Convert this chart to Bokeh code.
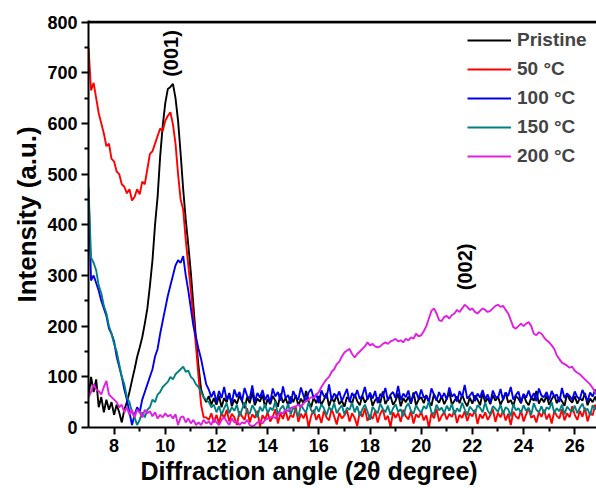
import numpy as np
from bokeh.plotting import figure
from bokeh.models import Range1d, FixedTicker, Label, Title, Span
from bokeh.embed import file_html
from bokeh.resources import INLINE

# 2-theta sampling grid (degrees), 7.0 ... 26.9
angle = np.round(np.arange(7.0, 26.95, 0.1), 1)

pristine = [
    60, 100, 70, 95, 40, 60, 30, 55, 35, 50,
    25, 45, 30, 10, 35, 50, 70, 93, 115, 139,
    158, 178, 205, 235, 280, 330, 400, 455, 535, 595,
    640, 668, 672, 678, 650, 605, 540, 470, 410, 360,
    305, 240, 175, 120, 75, 60, 50, 62, 45, 58,
    45, 62, 40, 58, 50, 68, 42, 55, 47, 63,
    52, 38, 60, 48, 70, 44, 57, 51, 65, 40,
    56, 46, 62, 53, 41, 67, 49, 58, 44, 61,
    50, 64, 43, 57, 47, 72, 52, 40, 59, 48,
    62, 45, 55, 68, 42, 58, 50, 64, 46, 53,
    41, 60, 55, 47, 66, 52, 44, 63, 49, 57,
    65, 43, 54, 59, 48, 71, 46, 56, 62, 45,
    53, 67, 42, 58, 50, 61, 47, 69, 44, 55,
    60, 48, 64, 52, 43, 66, 55, 49, 62, 46,
    57, 70, 45, 53, 61, 48, 65, 51, 42, 59,
    47, 63, 55, 44, 68, 50, 58, 46, 64, 53,
    61, 45, 56, 69, 49, 54, 42, 62, 57, 48,
    66, 51, 44, 59, 53, 72, 47, 58, 50, 63,
    45, 56, 64, 48, 60, 52, 43, 67, 55, 49,
    62, 47, 58, 53, 68, 44, 57, 50, 61, 46,
]

t50 = [
    750, 665, 680, 650, 620, 600, 580, 555, 560, 530,
    525, 505, 500, 480, 475, 462, 470, 448, 455, 470,
    460, 485, 480, 510, 540, 545, 560, 575, 590, 585,
    605, 615, 622, 598, 560, 500, 450, 430, 370, 320,
    270, 215, 160, 100, 45, 20, 20, 15, 28, 10,
    25, 8, 30, 18, 35, 12, 27, 20, 5, 32,
    22, 15, 38, 10, 26, 19, 33, 2, 24, 16,
    30, 12, 21, 36, 8, 28, 17, 34, 14, 25,
    20, 40, 11, 27, 18, 31, 0, 23, 35, 15,
    26, 9, 33, 20, 14, 37, 22, 6, 29, 18,
    24, 34, 12, 28, 19, 3, 31, 21, 38, 13,
    25, 17, 32, 10, 27, 36, 15, 23, 1, 30,
    19, 29, 11, 35, 22, 16, 33, 8, 26, 20,
    31, 14, 24, 0, 28, 18, 37, 12, 23, 30,
    16, 27, 21, 34, 9, 25, 19, 32, 13, 28,
    22, 35, 7, 26, 18, 30, 15, 24, 36, 11,
    29, 20, 33, 14, 27, 5, 31, 22, 17, 34,
    12, 26, 38, 19, 24, 10, 30, 21, 35, 16,
    27, 8, 32, 23, 18, 36, 14, 28, 20, 42,
    25, 15, 33, 21, 39, 12, 29, 24, 45, 30,
]

t100 = [
    470, 290, 300, 285, 270, 250, 235, 220, 195, 185,
    170, 140, 120, 100, 75, 55, 30, 5, 25, 40,
    30, 55, 70, 85, 100, 115, 140, 155, 185, 210,
    235, 260, 280, 300, 320, 330, 325, 338, 300, 270,
    235, 200, 178, 155, 135, 110, 85, 75, 60, 72,
    50, 72, 58, 80, 55, 66, 48, 75, 60, 70,
    52, 78, 62, 57, 83, 50, 68, 59, 74, 54,
    65, 49, 77, 61, 70, 53, 81, 58, 64, 47,
    72, 60, 55, 79, 63, 51, 69, 76, 57, 66,
    48, 73, 62, 58, 85, 54, 67, 60, 71, 52,
    64, 76, 50, 68, 59, 74, 56, 63, 80, 55,
    69, 57, 72, 48, 66, 61, 78, 53, 65, 70,
    58, 82, 54, 67, 60, 73, 49, 64, 71, 56,
    75, 59, 62, 50, 77, 65, 53, 70, 58, 68,
    55, 79, 61, 66, 51, 72, 60, 84, 57, 63,
    70, 52, 67, 59, 74, 56, 65, 49, 73, 61,
    58, 76, 54, 69, 62, 80, 55, 64, 71, 50,
    66, 59, 73, 57, 68, 52, 77, 63, 60, 70,
    54, 72, 61, 65, 50, 78, 58, 67, 62, 55,
    71, 60, 56, 74, 63, 52, 69, 61, 75, 58,
]

t150 = [
    475, 335, 325, 310, 280, 265, 240, 225, 200, 185,
    165, 150, 125, 100, 85, 60, 50, 30, 20, 5,
    15, 30, 20, 35, 40, 55, 50, 65, 70, 80,
    85, 90, 100, 95, 105, 110, 115, 120, 110, 112,
    100, 95, 85, 80, 70, 60, 55, 50, 40, 45,
    30, 42, 25, 38, 48, 28, 40, 33, 45, 22,
    36, 50, 30, 27, 44, 35, 20, 41, 32, 46,
    28, 39, 34, 52, 25, 37, 43, 30, 47, 26,
    40, 33, 21, 45, 36, 29, 50, 34, 27, 42,
    31, 46, 38, 24, 40, 33, 48, 28, 37, 44,
    26, 39, 35, 49, 30, 42, 23, 36, 45, 32,
    15, 41, 34, 28, 47, 37, 30, 43, 25, 38,
    46, 31, 36, 22, 40, 48, 33, 27, 44, 35,
    29, 42, 37, 51, 30, 26, 45, 34, 39, 28,
    43, 33, 47, 25, 38, 31, 49, 36, 24, 41,
    35, 28, 44, 39, 30, 50, 33, 26, 42, 37,
    31, 45, 27, 40, 36, 22, 46, 34, 38, 29,
    44, 33, 39, 25, 48, 35, 30, 42, 27, 40,
    36, 50, 29, 38, 32, 45, 26, 41, 35, 31,
    43, 28, 39, 47, 33, 37, 24, 44, 36, 40,
]

t200 = [
    60, 70, 85, 75, 72, 65, 80, 92, 65, 60,
    55, 50, 40, 45, 30, 40, 25, 35, 20, 35,
    30, 20, 35, 28, 32, 22, 30, 18, 25, 20,
    28, 22, 25, 18, 26, 5, 20, 22, 10, 18,
    8, 15, 5, 10, 5, 15, 8, 12, 5, 18,
    10, 5, 15, 20, 12, 5, 18, 10, 12, 5,
    10, 8, 15, 5, 2, 5, 10, 12, 8, 15,
    18, 20, 22, 18, 25, 30, 28, 35, 32, 38,
    40, 42, 45, 40, 48, 52, 55, 60, 58, 65,
    70, 80, 88, 95, 100, 110, 115, 125, 130, 140,
    148, 152, 155, 145, 138, 145, 150, 155, 160, 168,
    162, 165, 160, 158, 160, 165, 168, 165, 170, 172,
    175, 170, 172, 168, 175, 172, 178, 175, 185, 180,
    182, 190, 200, 215, 230, 235, 225, 212, 210, 218,
    220, 215, 222, 225, 232, 228, 235, 242, 238, 232,
    235, 228, 225, 230, 235, 232, 228, 230, 235, 240,
    242, 238, 240, 232, 225, 212, 198, 195, 200, 205,
    200, 205, 208, 200, 185, 182, 188, 185, 178, 172,
    168, 162, 155, 142, 135, 128, 125, 122, 118, 120,
    112, 108, 105, 100, 95, 90, 85, 78, 70, 62,
]

series_names = ["Pristine", "50 \u00b0C", "100 \u00b0C", "150 \u00b0C", "200 \u00b0C"]
series_values = [pristine, t50, t100, t150, t200]
series_colors = ["#000000", "#ff0000", "#0000ee", "#008080", "#e020e0"]

x_ticks = [8, 10, 12, 14, 16, 18, 20, 22, 24, 26]
x_minor = [9, 11, 13, 15, 17, 19, 21, 23, 25]
y_ticks = [0, 100, 200, 300, 400, 500, 600, 700, 800]
y_minor = [50, 150, 250, 350, 450, 550, 650, 750]
x_span = [7.0, 26.85]

peak_labels = ["(001)", "(002)"]
peak_x = [10.23, 21.73]
peak_y = [738, 317]

x_title = "Diffraction angle (2\u03b8 degree)"
y_title = "Intensity (a.u.)"

FONT = "Liberation Sans"

p = figure(width=596, height=488, output_backend="svg", toolbar_location=None,
           x_range=Range1d(x_span[0], x_span[1]), y_range=Range1d(y_ticks[0], 803),
           min_border_left=88, min_border_right=0, min_border_top=20,
           min_border_bottom=61)
p.outline_line_color = None
p.grid.visible = False
p.background_fill_color = "white"
p.border_fill_color = "white"

for ax, ticks, minor in [(p.xaxis[0], x_ticks, x_minor), (p.yaxis[0], y_ticks, y_minor)]:
    ax.ticker = FixedTicker(ticks=ticks, minor_ticks=minor)
    ax.axis_line_width = 2
    ax.axis_line_color = "black"
    ax.major_tick_line_width = 2
    ax.minor_tick_line_width = 2
    ax.major_tick_in = 0
    ax.major_tick_out = 7
    ax.minor_tick_in = 0
    ax.minor_tick_out = 4
    ax.major_label_text_font = FONT
    ax.major_label_text_font_style = "bold"
    ax.major_label_text_font_size = "18px"
    ax.major_label_text_color = "black"
    ax.major_label_standoff = 4

# top frame border along y = 800
p.line(x=x_span, y=[y_ticks[-1], y_ticks[-1]], line_color="black", line_width=2.5)
p.add_layout(Span(location=y_ticks[-1], dimension="width", line_color="black",
                  line_width=2.5, level="overlay"))

for name, vals, col in zip(series_names, series_values, series_colors):
    p.line(angle, vals, line_color=col, line_width=1.9, legend_label=name)

for txt, px, py in zip(peak_labels, peak_x, peak_y):
    p.add_layout(Label(x=px, y=py, text=txt, angle=np.pi / 2, text_align="center",
                       text_baseline="middle", text_font=FONT, text_font_style="bold",
                       text_font_size="20px", text_color="black"))

p.add_layout(Title(text=x_title, align="left", offset=52, standoff=0,
                   text_font=FONT, text_font_style="bold", text_font_size="25px",
                   text_color="black"), "below")
p.add_layout(Title(text=y_title, align="left", offset=125, standoff=6,
                   text_font=FONT, text_font_style="bold", text_font_size="26px",
                   text_color="black"), "left")

lg = p.legend[0]
lg.location = (379, 260)
lg.margin = 0
lg.padding = 8
lg.spacing = 7
lg.glyph_width = 44
lg.glyph_height = 20
lg.label_height = 20
lg.label_standoff = 6
lg.label_text_font = FONT
lg.label_text_font_style = "bold"
lg.label_text_font_size = "19px"
lg.border_line_color = None
lg.background_fill_alpha = 0

open("out.html", "w").write(file_html(p, INLINE))
